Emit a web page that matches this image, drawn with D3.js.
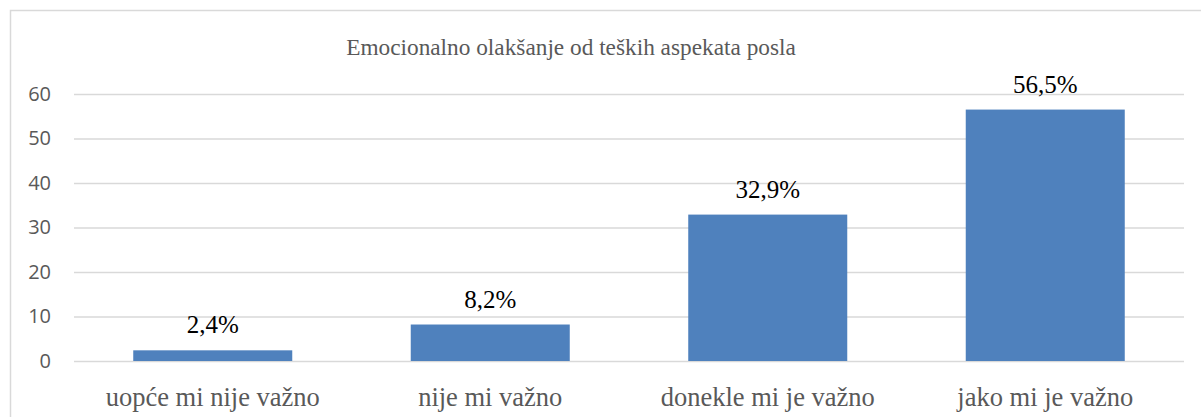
<!DOCTYPE html>
<html>
<head>
<meta charset="utf-8">
<script src="https://cdn.jsdelivr.net/npm/d3@7"></script>
<style>
  body { margin: 0; background: #fff; }
  svg { display: block; }
</style>
</head>
<body>
<svg id="chart"></svg>
<script>
const categories = ["uopće mi nije važno", "nije mi važno", "donekle mi je važno", "jako mi je važno"];
const values = [2.4, 8.2, 32.9, 56.5];
const yTicks = [0, 10, 20, 30, 40, 50, 60];
const title = "Emocionalno olakšanje od teških aspekata posla";

const width = 1201, height = 417;
const margin = { left: 74, right: 17, top: 94, bottom: 56 };

const svg = d3.select("#chart")
  .attr("width", width)
  .attr("height", height);

// outer chart border (runs off the right and bottom of the picture)
svg.append("rect")
  .attr("x", 10.5).attr("y", 10.5)
  .attr("width", 1300).attr("height", 500)
  .attr("fill", "none")
  .attr("stroke", "#d9d9d9")
  .attr("stroke-width", 1.5);

const x = d3.scaleBand()
  .domain(categories)
  .range([margin.left, width - margin.right])
  .paddingInner(0.427)
  .paddingOuter(0.2135);

const y = d3.scaleLinear()
  .domain([0, 60])
  .range([height - margin.bottom, margin.top]);

// gridlines
const grid = d3.axisLeft(y)
  .tickValues(yTicks)
  .tickSize(-(width - margin.right - margin.left))
  .tickFormat(d => d)
  .tickPadding(23);

const gy = svg.append("g")
  .attr("transform", `translate(${margin.left},0)`)
  .call(grid);
gy.select(".domain").remove();
gy.selectAll(".tick line")
  .attr("stroke", "#d9d9d9")
  .attr("stroke-width", 1.5);
gy.selectAll(".tick text")
  .attr("fill", "#595959")
  .attr("font-family", "'Open Sans', sans-serif")
  .attr("font-size", 20);

// bars
svg.append("g")
  .selectAll("rect")
  .data(values)
  .join("rect")
  .attr("x", (d, i) => x(categories[i]))
  .attr("y", d => y(d))
  .attr("width", x.bandwidth())
  .attr("height", d => y(0) - y(d))
  .attr("fill", "#4f81bd");

// value labels
svg.append("g")
  .selectAll("text")
  .data(values)
  .join("text")
  .attr("x", (d, i) => x(categories[i]) + x.bandwidth() / 2)
  .attr("y", d => y(d) - 17)
  .attr("text-anchor", "middle")
  .attr("font-family", "'Liberation Serif', 'Times New Roman', serif")
  .attr("font-size", 25)
  .attr("fill", "#000")
  .text(d => d3.format(".1f")(d).replace(".", ",") + "%");

// category axis
const gx = svg.append("g")
  .attr("transform", `translate(0,${y(0)})`)
  .call(d3.axisBottom(x).tickSize(0).tickPadding(26));
gx.select(".domain").remove();
gx.selectAll(".tick text")
  .attr("fill", "#595959")
  .attr("font-family", "'Liberation Serif', 'Times New Roman', serif")
  .attr("font-size", 26.5);

// title
svg.append("text")
  .attr("x", 571)
  .attr("y", 55)
  .attr("text-anchor", "middle")
  .attr("font-family", "'Liberation Serif', 'Times New Roman', serif")
  .attr("font-size", 23.3)
  .attr("fill", "#595959")
  .text(title);
</script>
</body>
</html>
